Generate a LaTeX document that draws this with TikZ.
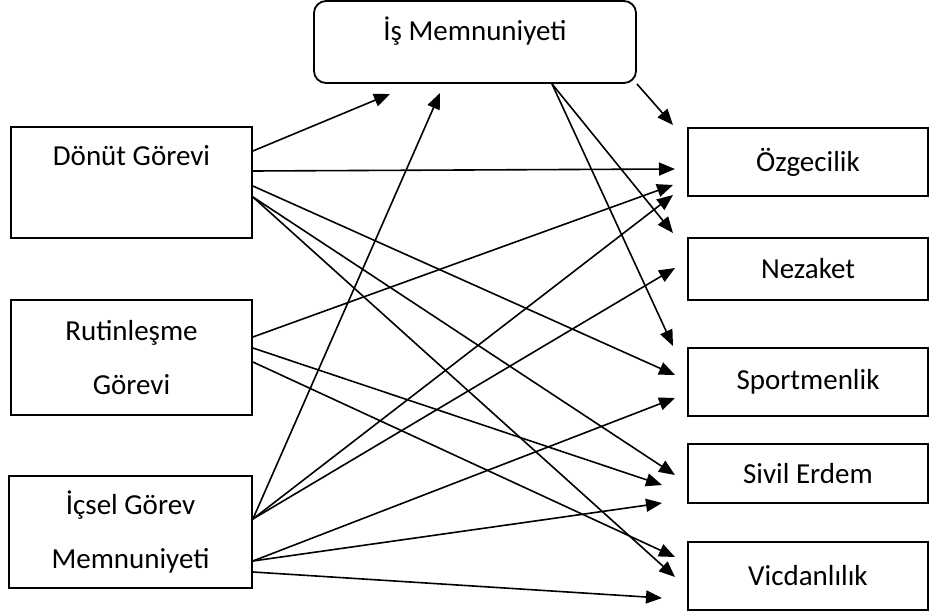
\documentclass[tikz,border=0pt]{standalone}
\usepackage{fontspec}
\setmainfont{Carlito}
\usetikzlibrary{positioning,arrows.meta}
\tikzset{
  patharrow/.style={-{Triangle[length=16pt, width=13pt]}, line width=1.6pt},
  varbox/.style={draw, line width=1.8pt, minimum width=241pt, align=center, inner sep=0pt},
  outbox/.style={draw, line width=1.8pt, minimum width=240pt, inner sep=0pt},
  mainbox/.style={draw, rounded corners=12pt, line width=1.8pt, minimum width=322pt, minimum height=82pt, inner sep=0pt, text height=20pt, text depth=22pt}
}

\begin{document}
\begin{tikzpicture}[x=1pt, y=-1pt, every node/.style={font=\fontsize{29}{54}\selectfont}]
  \useasboundingbox (0,0) rectangle (930,615);
  \node[mainbox] (is) at (475,42) {İş Memnuniyeti};
  \node[varbox, minimum height=111pt] (dg) at (131.5,182.5) {Dönüt Görevi\\~};
  \node[varbox, minimum height=115pt] (rg) at (131.5,357.5) {Rutinleşme\\Görevi};
  \node[varbox, minimum width=243pt, minimum height=112pt] (ig) at (130.5,532) {İçsel Görev\\Memnuniyeti};
  \node[outbox, minimum height=68pt] (oz) at (808,162) {Özgecilik};
  \node[outbox, minimum height=62pt] (nz) at (808,269) {Nezaket};
  \node[outbox, minimum height=68pt] (sp) at (808,382) {Sportmenlik};
  \node[outbox, minimum height=59pt] (se) at (808,473.5) {Sivil Erdem};
  \node[outbox, minimum height=68pt] (vc) at (808,576) {Vicdanlılık};

  \coordinate (is-a) at (390,94);
  \coordinate (is-b) at (440,93);
  \coordinate (oz-a) at (673,125);
  \coordinate (oz-b) at (675,169);
  \coordinate (oz-c) at (673,185);
  \coordinate (oz-d) at (673,195);
  \coordinate (nz-a) at (673,233);
  \coordinate (nz-b) at (675,268);
  \coordinate (sp-a) at (673,346);
  \coordinate (sp-b) at (675,375);
  \coordinate (sp-c) at (675,398);
  \coordinate (se-a) at (675,475);
  \coordinate (se-b) at (662,485);
  \coordinate (se-c) at (662,503);
  \coordinate (vc-a) at (675,557);
  \coordinate (vc-b) at (675,577);
  \coordinate (vc-c) at (662,598);

  \draw[patharrow] (is.south east) -- (oz-a);
  \draw[patharrow] ([xshift=77pt]is.south) -- (nz-a);
  \draw[patharrow] ([xshift=77pt]is.south) -- (sp-a);

  \draw[patharrow] ([yshift=31.5pt]dg.east) -- (is-a);
  \draw[patharrow] ([yshift=11.5pt]dg.east) -- (oz-b);
  \draw[patharrow] ([yshift=-3.5pt]dg.east) -- (sp-b);
  \draw[patharrow] ([yshift=-14.5pt]dg.east) -- (se-a);
  \draw[patharrow] ([yshift=-14.5pt]dg.east) -- (vc-b);

  \draw[patharrow] ([yshift=20.5pt]rg.east) -- (oz-c);
  \draw[patharrow] ([yshift=9.5pt]rg.east) -- (se-b);
  \draw[patharrow] ([yshift=-4.5pt]rg.east) -- (vc-a);

  \draw[patharrow] ([yshift=13pt]ig.east) -- (is-b);
  \draw[patharrow] ([yshift=13pt]ig.east) -- (oz-d);
  \draw[patharrow] ([yshift=13pt]ig.east) -- (nz-b);
  \draw[patharrow] ([yshift=-29pt]ig.east) -- (sp-c);
  \draw[patharrow] ([yshift=-29pt]ig.east) -- (se-c);
  \draw[patharrow] ([yshift=-40pt]ig.east) -- (vc-c);
\end{tikzpicture}
\end{document}
